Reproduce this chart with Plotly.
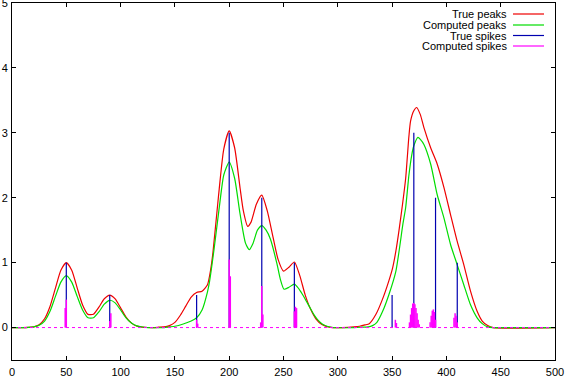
import plotly.graph_objects as go

# ---- data ----
true_peak_x = [0, 10, 15, 20, 25, 30, 35, 40, 45, 50, 55, 60, 65, 70, 75, 80, 85, 90, 95, 100,
               105, 110, 115, 120, 125, 130, 135, 140, 145, 150, 155, 160, 165, 170, 175, 180,
               183, 185, 190, 195, 200, 205, 210, 213, 217, 220, 225, 230, 235, 240, 245, 250,
               255, 260, 265, 270, 275, 280, 285, 290, 295, 300, 310, 315, 320, 325, 329, 335,
               341, 347, 350.5, 353.5, 356.3, 359.6, 362.5, 365.5, 367, 370, 372.6, 376, 379.3,
               385.5, 391.5, 397.7, 403.8, 409.9, 416, 422.2, 428.3, 433, 438, 443, 500]
true_peak_y = [0, 0, 0.003, 0.011, 0.044, 0.135, 0.325, 0.607, 0.883, 1.0, 0.884, 0.612, 0.347,
               0.203, 0.206, 0.314, 0.443, 0.5, 0.441, 0.303, 0.162, 0.068, 0.022, 0.006, 0.001,
               0.0, 0.005, 0.01, 0.03, 0.08, 0.19, 0.33, 0.47, 0.54, 0.56, 0.66, 0.9, 1.15, 2.0,
               2.75, 3.03, 2.77, 2.15, 1.8, 1.56, 1.62, 1.9, 2.04, 1.8, 1.42, 1.05, 0.87, 0.93,
               1.01, 0.8, 0.5, 0.28, 0.13, 0.05, 0.015, 0.0, 0.0, 0.003, 0.01, 0.02, 0.04, 0.06,
               0.2, 0.43, 0.72, 0.92, 1.18, 1.49, 1.9, 2.3, 2.95, 3.18, 3.34, 3.39, 3.28, 3.08,
               2.77, 2.52, 2.16, 1.74, 1.33, 0.97, 0.56, 0.25, 0.1, 0.03, 0.0, 0.0]

comp_peak_x = [0, 10, 15, 20, 25, 30, 35, 40, 45, 50, 55, 60, 65, 70, 75, 80, 85, 90, 95, 100,
               105, 110, 115, 120, 125, 140, 145, 150, 157, 165, 170, 175, 180, 182, 186, 191,
               195, 200, 205, 210, 215, 218.5, 222, 226, 230, 234, 238, 244, 247, 250.5, 255,
               260, 264, 267.5, 273.6, 278, 282, 286, 290, 296, 315, 322, 328, 332, 336, 341.3,
               347.1, 353.5, 360, 362.5, 365.5, 368, 370, 373.8, 376, 379.3, 385.5, 391.5,
               397.7, 403.8, 409.9, 416, 422.2, 428.3, 433, 438, 443, 500]
comp_peak_y = [0, 0, 0.003, 0.01, 0.035, 0.1, 0.25, 0.48, 0.7, 0.8, 0.7, 0.48, 0.27, 0.15,
               0.15, 0.24, 0.36, 0.42, 0.38, 0.27, 0.15, 0.07, 0.025, 0.008, 0.0, 0.0, 0.01,
               0.02, 0.05, 0.1, 0.15, 0.27, 0.55, 0.72, 1.2, 1.87, 2.35, 2.55, 2.3, 1.75, 1.3,
               1.2, 1.3, 1.5, 1.57, 1.5, 1.36, 0.98, 0.75, 0.59, 0.62, 0.67, 0.6, 0.51, 0.33,
               0.2, 0.11, 0.05, 0.02, 0.0, 0.0, 0.005, 0.01, 0.03, 0.08, 0.25, 0.51, 0.87, 1.6,
               1.85, 2.35, 2.65, 2.8, 2.93, 2.9, 2.82, 2.52, 2.05, 1.69, 1.28, 0.97, 0.66, 0.35,
               0.15, 0.06, 0.01, 0.0, 0.0]

true_spike_x = [50, 90, 170, 200, 230, 260, 350, 370, 390, 410]
true_spike_y = [1.0, 0.5, 0.5, 3.0, 2.0, 1.0, 0.5, 3.0, 2.0, 1.0]

comp_spike_x = [49, 50, 90, 91, 170, 171, 200, 201, 229, 230, 231, 260, 261, 262, 353, 354,
                366, 367, 368, 369, 370, 371, 372, 373, 374, 375,
                385, 386, 387, 388, 389, 390, 407, 408, 409, 410]
comp_spike_y = [0.3, 0.43, 0.1, 0.22, 0.12, 0.06, 1.05, 0.79, 0.08, 0.64, 0.2, 0.25, 0.32, 0.3,
                0.12, 0.07, 0.08, 0.2, 0.3, 0.37, 0.38, 0.36, 0.3, 0.22, 0.12, 0.05,
                0.08, 0.18, 0.26, 0.28, 0.24, 0.12, 0.15, 0.22, 0.18, 0.08]

x_ticks = [0, 50, 100, 150, 200, 250, 300, 350, 400, 450, 500]
y_ticks = [0, 1, 2, 3, 4, 5]
legend_labels = ["True peaks", "Computed peaks", "True spikes", "Computed spikes"]
colors = ["#ee0000", "#00dd00", "#0000b0", "#ff00ff"]

FONT = "Liberation Sans, Arial, sans-serif"


def impulses(xs, ys):
    px, py = [], []
    for a, b in zip(xs, ys):
        px += [a, a, None]
        py += [0, b, None]
    return px, py


fig = go.Figure()
fig.add_trace(go.Scatter(x=true_peak_x, y=true_peak_y, mode="lines",
                         line=dict(color=colors[0], width=1.2, shape="spline", smoothing=0.6),
                         name=legend_labels[0], hoverinfo="skip"))
fig.add_trace(go.Scatter(x=comp_peak_x, y=comp_peak_y, mode="lines",
                         line=dict(color=colors[1], width=1.2, shape="spline", smoothing=0.6),
                         name=legend_labels[1], hoverinfo="skip"))
tx, ty = impulses(true_spike_x, true_spike_y)
fig.add_trace(go.Scatter(x=tx, y=ty, mode="lines", line=dict(color=colors[2], width=1.2),
                         name=legend_labels[2], hoverinfo="skip"))
cx, cy = impulses(comp_spike_x, comp_spike_y)
fig.add_trace(go.Scatter(x=cx, y=cy, mode="lines", line=dict(color=colors[3], width=1.5),
                         name=legend_labels[3], hoverinfo="skip"))
# zero baseline of the computed spikes series
fig.add_trace(go.Scatter(x=[x_ticks[0], x_ticks[-1]], y=[0, 0], mode="lines",
                         line=dict(color=colors[3], width=1, dash="dot"),
                         showlegend=False, hoverinfo="skip"))

# gnuplot-style key: text right-aligned, sample line to its right
row_py = [14, 25, 35.5, 46]
plot_top, plot_h = 3, 357
plot_left, plot_w = 12, 543
annotations, shapes = [], []
for lab, col, py in zip(legend_labels, colors, row_py):
    yp = 1 - (py - plot_top) / plot_h
    annotations.append(dict(xref="paper", yref="paper", x=(508.5 - plot_left) / plot_w, y=yp,
                            text=lab, showarrow=False, xanchor="right", yanchor="middle",
                            font=dict(family=FONT, size=11, color="black")))
    shapes.append(dict(type="line", xref="paper", yref="paper",
                       x0=(513 - plot_left) / plot_w, x1=(544 - plot_left) / plot_w,
                       y0=yp, y1=yp, line=dict(color=col, width=1.2)))

fig.update_layout(
    width=567, height=379,
    margin=dict(l=12, r=12, t=3, b=19),
    paper_bgcolor="white", plot_bgcolor="white",
    showlegend=False,
    font=dict(family=FONT, size=11, color="black"),
    annotations=annotations, shapes=shapes,
    xaxis=dict(range=[0, 500], tickvals=x_ticks, ticks="inside", ticklen=4,
               tickcolor="black", showline=True, linecolor="black", linewidth=1,
               mirror="allticks", showgrid=False, zeroline=False, automargin=False,
               ticklabelstandoff=2, ticklabeloverflow="allow",
               tickfont=dict(family=FONT, size=11)),
    yaxis=dict(range=[-0.5, 5], tickvals=y_ticks, ticks="inside", ticklen=4,
               tickcolor="black", showline=True, linecolor="black", linewidth=1,
               mirror="allticks", showgrid=False, zeroline=False, automargin=False,
               ticklabelstandoff=1, ticklabeloverflow="allow",
               tickfont=dict(family=FONT, size=11)),
)

fig.write_html("out.html", config={"displayModeBar": False, "staticPlot": True},
               post_script="document.body.style.margin='0';document.body.style.padding='0';")
